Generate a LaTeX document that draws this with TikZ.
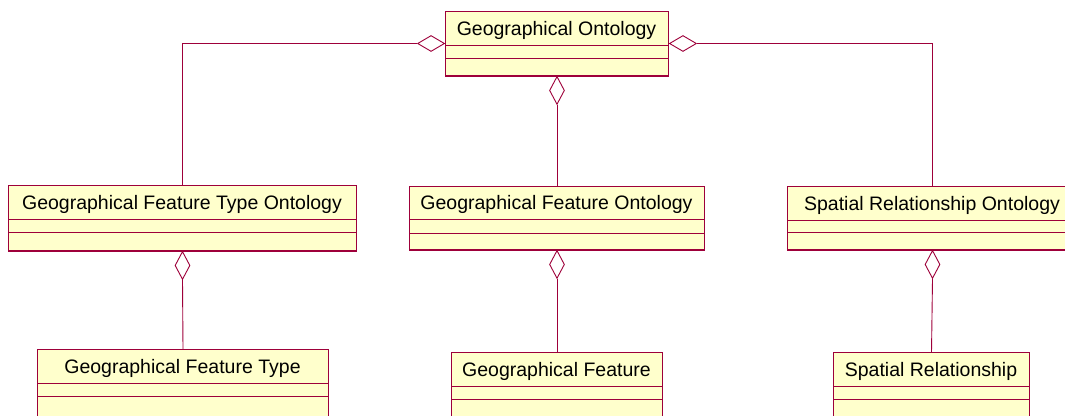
\documentclass[tikz,border=0pt]{standalone}
\usepackage{fontspec}
\setmainfont{Liberation Sans}
\usetikzlibrary{shapes.geometric}
\definecolor{umlline}{RGB}{158,0,58}
\definecolor{umlfill}{RGB}{255,255,204}
\tikzset{
  classbox/.style={draw=umlline, fill=umlfill, line width=1pt, rectangle, inner sep=0pt, anchor=north west},
  classname/.style={font=\fontsize{19.5}{22}\selectfont, inner sep=0pt, anchor=base},
  divider/.style={draw=umlline, line width=1pt},
  aggr/.style={diamond, draw=umlline, fill=white, line width=0.9pt, inner sep=0pt},
  hdiamond/.style={aggr, minimum width=27pt, minimum height=16pt},
  vdiamond/.style={aggr, minimum width=15pt, minimum height=28pt},
  link/.style={draw=umlline, line width=0.9pt},
}
% class box: name, left, top, right, first divider, second divider, bottom, title
\newcommand{\umlclass}[8]{%
  \node[classbox, minimum width={(#4-#2)*1pt}, minimum height={(#7-#3)*1pt}] (#1) at (#2,#3) {};
  \draw[divider] (#2,#5) -- (#4,#5) (#2,#6) -- (#4,#6);
  \draw[umlline, line width=1.6pt] (#1.south west) -- (#1.south east);
  \node[classname] (#1-title) at ({(#2+#4)/2},{(#3+#5)/2+7}) {#8};
}
\begin{document}
\begin{tikzpicture}[x=1pt, y=-1pt]
\useasboundingbox (0,0) rectangle (1065,415);

% classes
\umlclass{geo}{445}{11}{668}{45}{58}{75}{Geographical Ontology}
\umlclass{gfto}{8}{185}{356}{219}{232}{250}{Geographical Feature Type Ontology}
\umlclass{gfo}{409}{186}{704}{219}{233}{249}{Geographical Feature Ontology}
\umlclass{sro}{787}{186}{1077}{220}{232}{249}{Spatial Relationship Ontology}
\umlclass{gft}{37}{349}{328}{383}{396}{440}{Geographical Feature Type}
\umlclass{gf}{451}{352}{662}{386}{399}{440}{Geographical Feature}
\umlclass{sr}{833}{352}{1029}{386}{399}{440}{Spatial Relationship}

% aggregation ends on the ontology root
\node[hdiamond, anchor=east] (dgeoL) at (geo.west) {};
\node[hdiamond, anchor=west] (dgeoR) at (geo.east) {};
\node[vdiamond, anchor=north] (dgeoB) at (geo.south) {};

% aggregation ends on the sub-ontologies
\node[vdiamond, anchor=north] (dgfto) at (gfto.south) {};
\node[vdiamond, anchor=north] (dgfo) at (gfo.south) {};
\node[vdiamond, anchor=north] (dsro) at (sro.south) {};

% connectors
\draw[link] (dgeoL.west) -| (gfto.north);
\draw[link] (dgeoR.east) -| (sro.north);
\draw[link] (dgeoB.south) -- (gfo.north);
\draw[link] (dgfto.south) -- (gft.north);
\draw[link] (dgfo.south) -- (gf.north);
\draw[link] (dsro.south) -- (sr.north);
\end{tikzpicture}
\end{document}
